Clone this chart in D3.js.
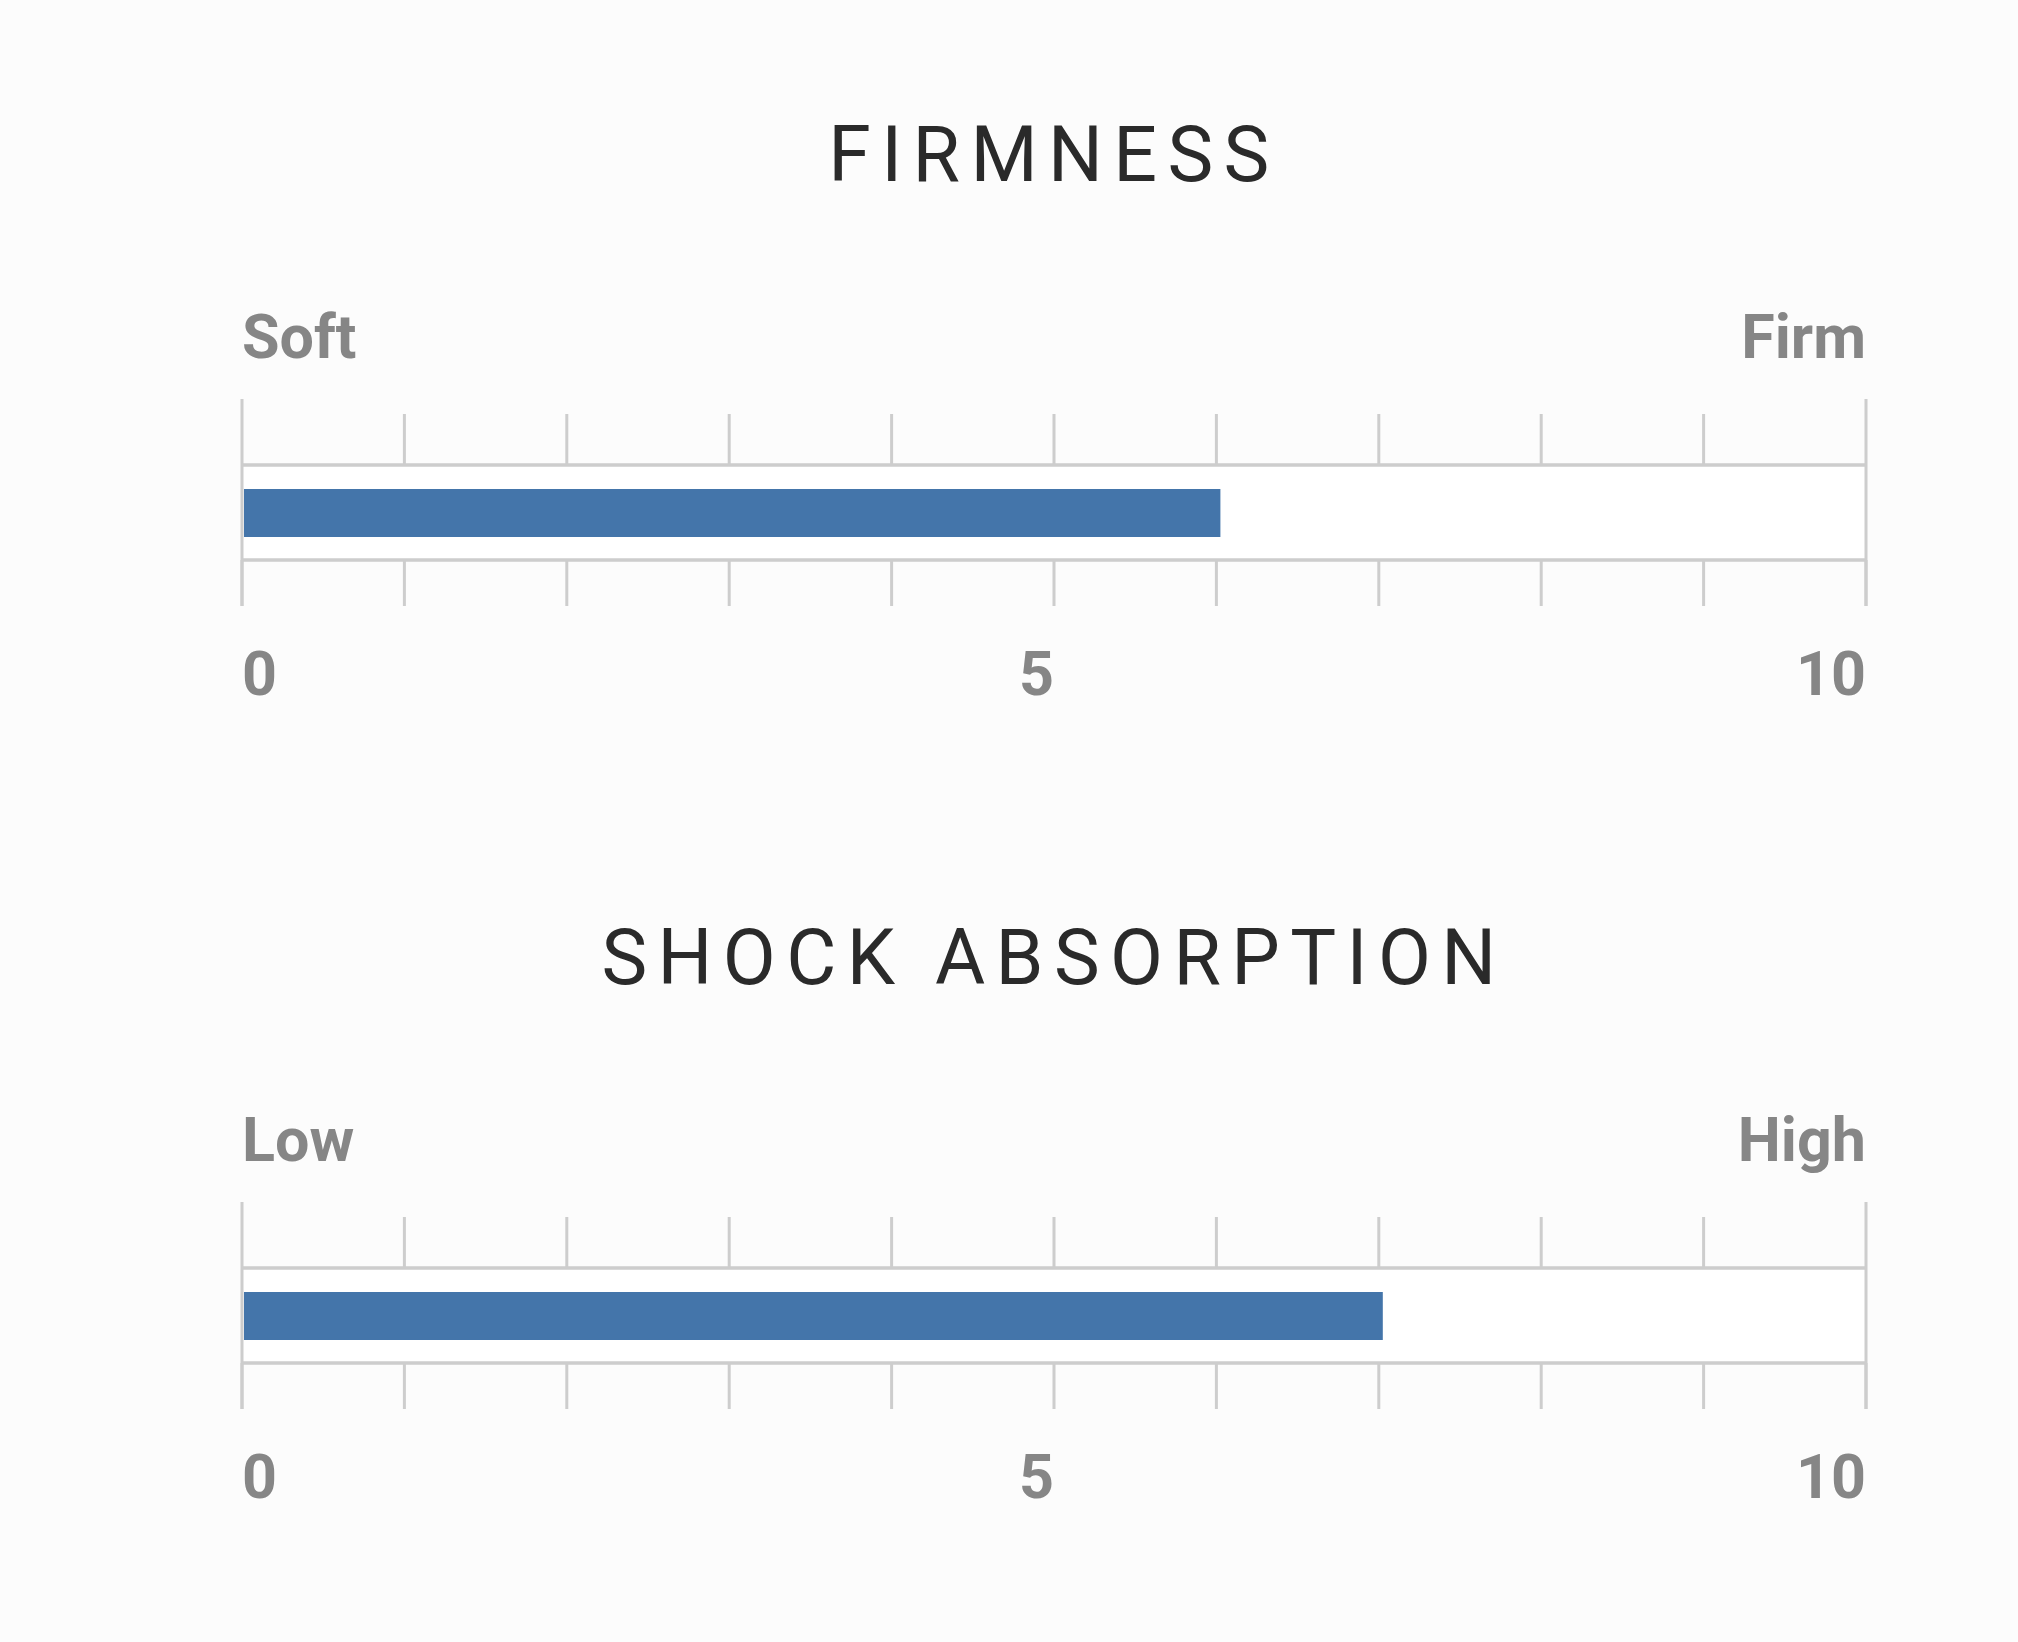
<!DOCTYPE html>
<html>
<head>
<meta charset="utf-8">
<script src="https://cdn.jsdelivr.net/npm/d3@7"></script>
<style>
  html, body { margin: 0; padding: 0; background: #fcfcfc; }
  svg text { font-family: Roboto, "Noto Sans", sans-serif; }
</style>
</head>
<body>
<div class="graph"></div>
<script>
// chart data
const titles = ["FIRMNESS", "SHOCK ABSORPTION"];
const lowLabels = ["Soft", "Low"];
const highLabels = ["Firm", "High"];
const values = [6, 7];
const scaleDomain = [0, 10];
const numberLabels = ["0", "5", "10"];

let width = 2018;
let height = 1642;
let panelGap = 803;

let svg = d3.select(".graph").append("svg")
  .attr("width", width)
  .attr("height", height);

//shared x scale for both meters
var x = d3.scaleLinear().domain(scaleDomain).range([242, 1866]);
var ticks = x.ticks(10);

titles.forEach(function (title, i) {
  let g = svg.append("g").attr("transform", "translate(0," + (i * panelGap) + ")");

  //title
  g.append("text")
    .text(title)
    .attr("x", (x.range()[0] + x.range()[1]) / 2)
    .attr("y", 181)
    .attr("text-anchor", "middle")
    .attr("font-size", 77)
    .attr("letter-spacing", "0.135em")
    .attr("fill", "#2a2a2a");

  //end labels
  g.append("text").text(lowLabels[i])
    .attr("x", x.range()[0]).attr("y", 358)
    .attr("font-size", 61).attr("font-weight", 700).attr("fill", "#868686");
  g.append("text").text(highLabels[i])
    .attr("x", x.range()[1]).attr("y", 358)
    .attr("text-anchor", "end")
    .attr("font-size", 61).attr("font-weight", 700).attr("fill", "#868686");

  //white band
  g.append("rect")
    .attr("x", x.range()[0]).attr("y", 465)
    .attr("width", x.range()[1] - x.range()[0]).attr("height", 95)
    .attr("fill", "#ffffff");

  //ticks
  let lineColor = "#cdcdcd";
  g.selectAll(".tick-top")
    .data(ticks)
    .enter().append("line")
    .attr("x1", d => x(d)).attr("x2", d => x(d))
    .attr("y1", d => (d == scaleDomain[0] || d == scaleDomain[1]) ? 399 : 414)
    .attr("y2", 465)
    .attr("stroke", lineColor).attr("stroke-width", 3);
  g.selectAll(".tick-bottom")
    .data(ticks)
    .enter().append("line")
    .attr("x1", d => x(d)).attr("x2", d => x(d))
    .attr("y1", 465).attr("y2", 606)
    .attr("stroke", d => (d == scaleDomain[0] || d == scaleDomain[1]) ? lineColor : "none")
    .attr("stroke-width", 3);
  g.selectAll(".tick-low")
    .data(ticks)
    .enter().append("line")
    .attr("x1", d => x(d)).attr("x2", d => x(d))
    .attr("y1", 560).attr("y2", 606)
    .attr("stroke", lineColor).attr("stroke-width", 3);

  //horizontal rails
  [465, 560].forEach(function (yy) {
    g.append("line")
      .attr("x1", x.range()[0]).attr("x2", x.range()[1])
      .attr("y1", yy).attr("y2", yy)
      .attr("stroke", lineColor).attr("stroke-width", 3.5);
  });

  //bar
  g.append("rect")
    .attr("x", x(0) + 2).attr("y", 489)
    .attr("width", x(values[i]) - x(0) + 2).attr("height", 48)
    .attr("fill", "#4475aa");

  //number labels, spread like space-between
  let nums = g.selectAll(".num")
    .data(numberLabels)
    .enter().append("text")
    .text(d => d)
    .attr("y", 695)
    .attr("font-size", 61).attr("font-weight", 700).attr("fill", "#868686");
  let widths = nums.nodes().map(n => n.getComputedTextLength());
  let total = d3.sum(widths);
  let gap = (x.range()[1] - x.range()[0] - total) / (numberLabels.length - 1);
  let pos = x.range()[0];
  nums.each(function (d, j) {
    d3.select(this).attr("x", pos);
    pos += widths[j] + gap;
  });
});
</script>
</body>
</html>
